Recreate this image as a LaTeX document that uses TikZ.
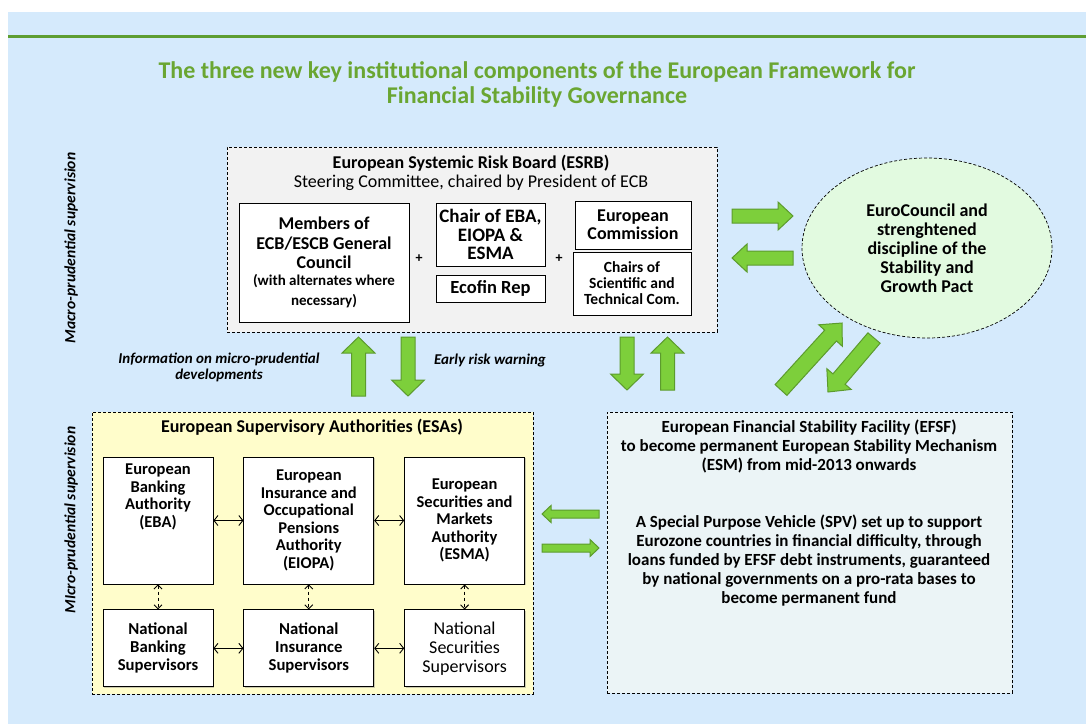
\documentclass[tikz,border=0pt]{standalone}
\usepackage{fontspec}
\setmainfont{Carlito}
\usetikzlibrary{positioning,calc,shapes.geometric,arrows.meta,shadows}

\definecolor{bgblue}{HTML}{D5EAFC}
\definecolor{titlegreen}{HTML}{6AA632}
\definecolor{rulegreen}{HTML}{5E9E32}
\definecolor{esrbgray}{HTML}{F2F2F2}
\definecolor{esayellow}{HTML}{FFFDCB}
\definecolor{efsfblue}{HTML}{EBF4F6}
\definecolor{eurogreen}{HTML}{E2FAE0}
\definecolor{arrowfill}{HTML}{7DCF3B}
\definecolor{arrowline}{HTML}{5C9B2D}

\tikzset{
  container/.style={draw, dashed, dash pattern=on 3pt off 2pt, line width=0.7pt},
  box/.style={draw, fill=white, line width=0.8pt, align=center, inner sep=2pt,
    font=\fontsize{16.5}{17.5}\selectfont\bfseries,
    drop shadow={shadow xshift=1.3pt, shadow yshift=-1.3pt, opacity=0.4}},
  boxtext/.style={align=center, font=\fontsize{18}{19}\selectfont\bfseries},
  sidelabel/.style={font=\fontsize{15.6}{18}\selectfont\bfseries\itshape},
  notelabel/.style={align=center, font=\fontsize{15}{15.5}\selectfont\bfseries\itshape},
  linkarrow/.style={<->, >={Straight Barb[length=4pt,width=10pt]}, line width=0.9pt},
  blockarrow/.style={fill=arrowfill, draw=arrowline, line width=1pt, line join=miter}
}

% tail, tip, half shaft, half head, head length
\newcommand{\blockarrow}[5]{%
  \coordinate (bah) at ($(#2)!#5!(#1)$);
  \filldraw[blockarrow] ($(#1)!#3!90:(#2)$) -- ($(bah)!#3!90:(#2)$) -- ($(bah)!#4!90:(#2)$)
    -- (#2) -- ($(bah)!#4!-90:(#2)$) -- ($(bah)!#3!-90:(#2)$) -- ($(#1)!#3!-90:(#2)$) -- cycle;}

\begin{document}
\begin{tikzpicture}[x=1pt,y=-1pt]
\useasboundingbox (0,0) rectangle (1086,724);
\fill[bgblue] (8,12) rectangle (1086,724);
\draw[rulegreen, line width=3pt] (8,36) -- (1086,36);

\node[align=center, text=titlegreen, font=\fontsize{24}{25}\selectfont\bfseries] (title) at (537,84.5)
  {The three new key institutional components of the European Framework for\\Financial Stability Governance};

\node[sidelabel, rotate=90] (macrolab) at (71,248) {Macro-prudential supervision};
\node[sidelabel, rotate=90] (microlab) at (71,520) {MIcro-prudential supervision};

% ESRB
\node[container, fill=esrbgray, minimum width=490pt, minimum height=185pt] (esrb) at (472,239.5) {};
\node[boxtext] (esrbhead) at (471,172.5) {European Systemic Risk Board (ESRB)\\\mdseries Steering Committee, chaired by President of ECB};
\node[box, text width=166pt, align=flush center, minimum height=119pt, font=\fontsize{18}{19.5}\selectfont\bfseries] (members) at (324,262.5)
  {Members of\\ECB/ESCB General\\Council\par\fontsize{15}{17}\selectfont(with alternates where\\necessary)};
\node[box, minimum width=109pt, minimum height=63pt, font=\fontsize{19}{18.5}\selectfont\bfseries] (chair) at (490.5,234.5) {Chair of EBA,\\EIOPA \&\\ESMA};
\node[box, minimum width=109pt, minimum height=27pt, font=\fontsize{18.5}{18.5}\selectfont\bfseries] (ecofin) at (490.5,288.5) {Ecofin Rep};
\node[box, minimum width=116pt, minimum height=48pt, font=\fontsize{18}{18}\selectfont\bfseries] (ec) at (633,225) {European\\Commission};
\node[box, minimum width=118pt, minimum height=63pt, font=\fontsize{15.5}{16}\selectfont\bfseries] (chairs) at (632,283.5)
  {Chairs of\\Scientific and\\Technical Com.};
\node[font=\fontsize{14}{15}\selectfont\bfseries] (plusa) at (419,259) {+};
\node[font=\fontsize{14}{15}\selectfont\bfseries] (plusb) at (559,259) {+};

\node[notelabel] (infolab) at (219,367.5) {Information on micro-prudential\\developments};
\node[notelabel] (earlylab) at (490,360) {Early risk warning};

% ESAs
\node[container, fill=esayellow, minimum width=441pt, minimum height=282pt] (esa) at (312.5,553) {};
\node[boxtext] (esatitle) at (312,427) {European Supervisory Authorities (ESAs)};
\node[box, minimum width=110pt, minimum height=127pt] (eba) at (158,520.5) {};
\node[align=center, font=\fontsize{16.5}{17.5}\selectfont\bfseries, anchor=north] (ebatext) at ([yshift=-4pt]eba.north) {European\\Banking\\Authority\\(EBA)};
\node[box, minimum width=130pt, minimum height=127pt, right=30pt of eba] (eiopa)
  {European\\Insurance and\\Occupational\\Pensions\\Authority\\(EIOPA)};
\node[box, minimum width=120pt, minimum height=127pt, right=30pt of eiopa] (esma)
  {European\\Securities and\\Markets\\Authority\\(ESMA)};
\node[box, minimum width=110pt, minimum height=77pt, below=25pt of eba, font=\fontsize{16.7}{18}\selectfont\bfseries] (nbs) {National\\Banking\\Supervisors};
\node[box, minimum width=130pt, minimum height=77pt, below=25pt of eiopa, font=\fontsize{16.7}{18}\selectfont\bfseries] (nis) {National\\Insurance\\Supervisors};
\node[box, minimum width=120pt, minimum height=77pt, below=25pt of esma, font=\fontsize{18}{19}\selectfont] (nss) {National\\Securities\\Supervisors};

\draw[linkarrow] (eba) -- (eiopa);
\draw[linkarrow] (eiopa) -- (esma);
\draw[linkarrow] (nbs) -- (nis);
\draw[linkarrow] (nis) -- (nss);
\draw[linkarrow, dashed, >={Straight Barb[length=4pt,width=8pt]}] (eba) -- (nbs);
\draw[linkarrow, dashed, >={Straight Barb[length=4pt,width=8pt]}] (eiopa) -- (nis);
\draw[linkarrow, dashed, >={Straight Barb[length=4pt,width=8pt]}] (esma) -- (nss);

% EFSF
\node[container, fill=efsfblue, minimum width=405pt, minimum height=281pt] (efsf) at (809.5,552.5) {};
\node[boxtext, font=\fontsize{17}{19}\selectfont\bfseries] (efsftitle) at (809,446) {European Financial Stability Facility (EFSF)\\to become permanent European Stability Mechanism\\(ESM) from mid-2013 onwards};
\node[boxtext, font=\fontsize{17}{19}\selectfont\bfseries] (efsfbody) at (809,561) {A Special Purpose Vehicle (SPV) set up to support\\Eurozone countries in financial difficulty, through\\loans funded by EFSF debt instruments, guaranteed\\by national governments on a pro-rata bases to\\become permanent fund};

% EuroCouncil
\node[container, ellipse, fill=eurogreen, minimum width=250pt, minimum height=180pt, inner sep=0pt, boxtext, font=\fontsize{18}{19}\selectfont\bfseries] (euro) at (927,248)
  {EuroCouncil and\\strenghtened\\discipline of the\\Stability and\\Growth Pact};

% block arrows
\coordinate (infoS) at (358.5,396); \coordinate (infoE) at (358.5,337);
\coordinate (warnS) at (408,337);   \coordinate (warnE) at (408,396);
\coordinate (esmdS) at (627,337);   \coordinate (esmdE) at (627,390);
\coordinate (esmuS) at (667.5,390); \coordinate (esmuE) at (667.5,337);
\coordinate (eurrS) at (732,216);   \coordinate (eurrE) at (793,216);
\coordinate (eurlS) at (793,258);   \coordinate (eurlE) at (732,258);
\coordinate (diauS) at (781,390);   \coordinate (diauE) at (842,323);
\coordinate (diadS) at (874,338);   \coordinate (diadE) at (828,392);
\coordinate (efslS) at (599,514);   \coordinate (efslE) at (542,514);
\coordinate (efsrS) at (542,548);   \coordinate (efsrE) at (599,548);

\blockarrow{infoS}{infoE}{7pt}{16.5pt}{16pt}
\blockarrow{warnS}{warnE}{7pt}{16.5pt}{16pt}
\blockarrow{esmdS}{esmdE}{7pt}{16.5pt}{16pt}
\blockarrow{esmuS}{esmuE}{7pt}{16.5pt}{16pt}
\blockarrow{eurrS}{eurrE}{7pt}{14pt}{15pt}
\blockarrow{eurlS}{eurlE}{7pt}{14pt}{15pt}
\blockarrow{diauS}{diauE}{8pt}{16pt}{17pt}
\blockarrow{diadS}{diadE}{8pt}{16pt}{17pt}
\blockarrow{efslS}{efslE}{4pt}{8.5pt}{9pt}
\blockarrow{efsrS}{efsrE}{4pt}{8.5pt}{9pt}
\end{tikzpicture}
\end{document}
